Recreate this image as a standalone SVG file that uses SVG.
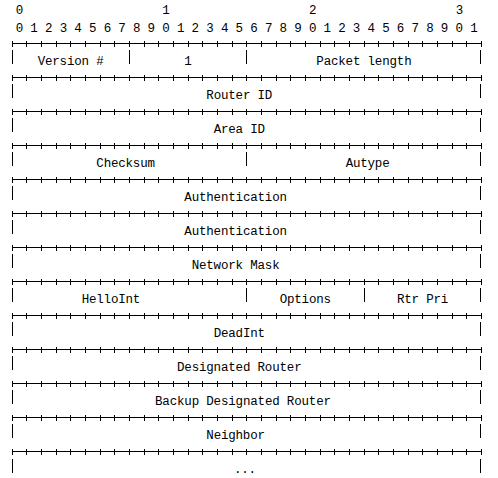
<svg xmlns="http://www.w3.org/2000/svg" xmlns:xlink="http://www.w3.org/1999/xlink" width="498" height="478" viewBox="0 0 498 478">
<style>
text{font-family:"Liberation Mono","DejaVu Sans Mono",monospace;font-size:12.5px;fill:#000;lengthAdjust:spacing}
.ln{stroke:#000;stroke-width:1;fill:none;shape-rendering:crispEdges}
</style>
<defs>
<g id="sep">
<path class="ln" d="M12 0H481"/>
<path class="ln" d="M12 -3v6M26.66 -3v6M41.33 -3v6M56 -3v6M70.66 -3v6M85.33 -3v6M100 -3v6M114.66 -3v6M129.33 -3v6M144 -3v6M158.66 -3v6M173.33 -3v6M188 -3v6M202.66 -3v6M217.33 -3v6M232 -3v6M246.66 -3v6M261.33 -3v6M276 -3v6M290.66 -3v6M305.33 -3v6M320 -3v6M334.66 -3v6M349.33 -3v6M364 -3v6M378.66 -3v6M393.33 -3v6M408 -3v6M422.66 -3v6M437.33 -3v6M452 -3v6M466.66 -3v6M481 -3v6"/>
</g>
<path id="bar" class="ln" d="M0 0v14"/>
</defs>
<g id="header">
<text x="15.67" y="14">0</text>
<text x="162.33" y="14">1</text>
<text x="309" y="14">2</text>
<text x="455.67" y="14">3</text>
<text x="15.67" y="31.5" textLength="462" lengthAdjust="spacing">0 1 2 3 4 5 6 7 8 9 0 1 2 3 4 5 6 7 8 9 0 1 2 3 4 5 6 7 8 9 0 1</text>
</g>
<g id="connectors">
<use xlink:href="#sep" y="43.5"/>
<use xlink:href="#sep" y="77.5"/>
<use xlink:href="#sep" y="111.5"/>
<use xlink:href="#sep" y="145.5"/>
<use xlink:href="#sep" y="179.5"/>
<use xlink:href="#sep" y="213.5"/>
<use xlink:href="#sep" y="247.5"/>
<use xlink:href="#sep" y="281.5"/>
<use xlink:href="#sep" y="315.5"/>
<use xlink:href="#sep" y="349.5"/>
<use xlink:href="#sep" y="383.5"/>
<use xlink:href="#sep" y="417.5"/>
<use xlink:href="#sep" y="451.5"/>
</g>
<g id="row-0">
<use xlink:href="#bar" x="12.5" y="50"/><use xlink:href="#bar" x="129.5" y="50"/><use xlink:href="#bar" x="246.5" y="50"/><use xlink:href="#bar" x="480.5" y="50"/>
<text x="37.67" y="65" textLength="66" lengthAdjust="spacing">Version #</text>
<text x="184.33" y="65">1</text>
<text x="316.33" y="65" textLength="95.33" lengthAdjust="spacing">Packet length</text>
</g>
<g id="row-1">
<use xlink:href="#bar" x="12.5" y="84"/><use xlink:href="#bar" x="480.5" y="84"/>
<text x="206.33" y="99" textLength="66" lengthAdjust="spacing">Router ID</text>
</g>
<g id="row-2">
<use xlink:href="#bar" x="12.5" y="118"/><use xlink:href="#bar" x="480.5" y="118"/>
<text x="213.67" y="133" textLength="51.33" lengthAdjust="spacing">Area ID</text>
</g>
<g id="row-3">
<use xlink:href="#bar" x="12.5" y="152"/><use xlink:href="#bar" x="246.5" y="152"/><use xlink:href="#bar" x="480.5" y="152"/>
<text x="96.33" y="167" textLength="58.67" lengthAdjust="spacing">Checksum</text>
<text x="345.67" y="167" textLength="44" lengthAdjust="spacing">Autype</text>
</g>
<g id="row-4">
<use xlink:href="#bar" x="12.5" y="186"/><use xlink:href="#bar" x="480.5" y="186"/>
<text x="184.33" y="201" textLength="102.67" lengthAdjust="spacing">Authentication</text>
</g>
<g id="row-5">
<use xlink:href="#bar" x="12.5" y="220"/><use xlink:href="#bar" x="480.5" y="220"/>
<text x="184.33" y="235" textLength="102.67" lengthAdjust="spacing">Authentication</text>
</g>
<g id="row-6">
<use xlink:href="#bar" x="12.5" y="254"/><use xlink:href="#bar" x="480.5" y="254"/>
<text x="191.67" y="269" textLength="88" lengthAdjust="spacing">Network Mask</text>
</g>
<g id="row-7">
<use xlink:href="#bar" x="12.5" y="288"/><use xlink:href="#bar" x="246.5" y="288"/><use xlink:href="#bar" x="364.5" y="288"/><use xlink:href="#bar" x="480.5" y="288"/>
<text x="81.67" y="303" textLength="58.67" lengthAdjust="spacing">HelloInt</text>
<text x="279.67" y="303" textLength="51.33" lengthAdjust="spacing">Options</text>
<text x="397" y="303" textLength="51.33" lengthAdjust="spacing">Rtr Pri</text>
</g>
<g id="row-8">
<use xlink:href="#bar" x="12.5" y="322"/><use xlink:href="#bar" x="480.5" y="322"/>
<text x="213.67" y="337" textLength="51.33" lengthAdjust="spacing">DeadInt</text>
</g>
<g id="row-9">
<use xlink:href="#bar" x="12.5" y="356"/><use xlink:href="#bar" x="480.5" y="356"/>
<text x="177" y="371" textLength="124.67" lengthAdjust="spacing">Designated Router</text>
</g>
<g id="row-10">
<use xlink:href="#bar" x="12.5" y="390"/><use xlink:href="#bar" x="480.5" y="390"/>
<text x="155" y="405" textLength="176" lengthAdjust="spacing">Backup Designated Router</text>
</g>
<g id="row-11">
<use xlink:href="#bar" x="12.5" y="424"/><use xlink:href="#bar" x="480.5" y="424"/>
<text x="206.33" y="439" textLength="58.67" lengthAdjust="spacing">Neighbor</text>
</g>
<g id="row-12">
<use xlink:href="#bar" x="12.5" y="459"/><use xlink:href="#bar" x="480.5" y="459"/>
<text x="234" y="473" textLength="22" lengthAdjust="spacing">...</text>
</g>
</svg>
